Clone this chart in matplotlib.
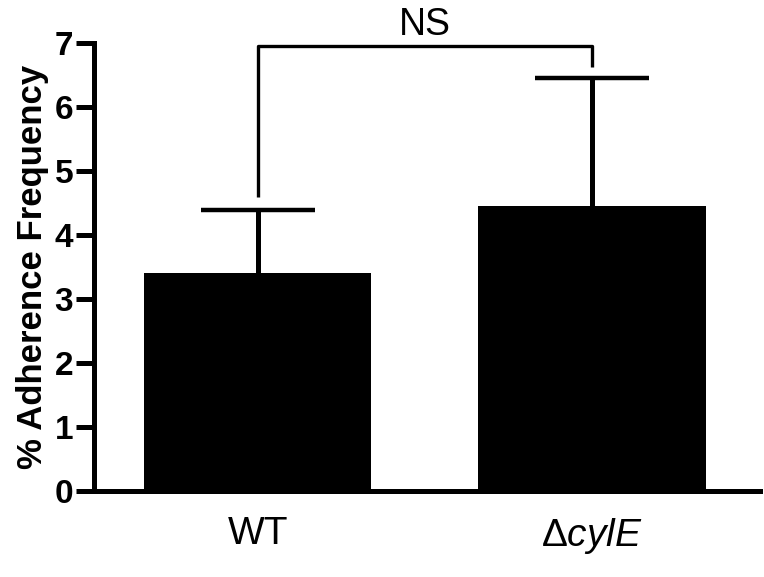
import matplotlib
matplotlib.use("Agg")
import matplotlib.pyplot as plt

plt.rcParams['font.family'] = ['Liberation Sans', 'DejaVu Sans']
plt.rcParams['mathtext.fontset'] = 'custom'
plt.rcParams['mathtext.rm'] = 'Liberation Sans'
plt.rcParams['mathtext.it'] = 'Liberation Sans:italic'

categories = ['WT', r'$\Delta\mathit{cylE}$']
means = [3.41, 4.45]
errors = [0.98, 2.0]
yticks = [0, 1, 2, 3, 4, 5, 6, 7]
bracket_y = 6.95
bracket_left_bottom = 4.6
bracket_right_bottom = 6.63
sig_label = 'NS'

fig = plt.figure(figsize=(7.64, 5.77), dpi=100)
ax = fig.add_axes([0.123, 0.149, 0.872, 0.776])

x = list(range(len(categories)))
tops = [m + e for m, e in zip(means, errors)]
cap_half = 0.17
ax.vlines(x, means, tops, colors='black', lw=3.6, zorder=2)
ax.hlines(tops, [xi - cap_half for xi in x], [xi + cap_half for xi in x],
          colors='black', lw=3.2, zorder=2)
ax.bar(x, means, width=0.68, color='black', zorder=3)

ax.plot([x[0], x[0], x[1], x[1]],
        [bracket_left_bottom, bracket_y, bracket_y, bracket_right_bottom],
        color='black', lw=2.4, solid_capstyle='butt')
ax.text((x[0] + x[1]) / 2, bracket_y + 0.05, sig_label, ha='center', va='bottom',
        fontsize=27, clip_on=False)

ax.set_xlim(-0.49, 1.503)
ax.set_ylim(0, 7)
ax.set_yticks(yticks)
ax.set_yticklabels([str(t) for t in yticks], fontsize=24, fontweight='bold')
ax.set_xticks(x)
ax.set_xticklabels(categories, fontsize=28)
ax.tick_params(axis='x', length=0, pad=18)
ax.tick_params(axis='y', length=13, width=3.6, pad=2)
ax.set_ylabel('% Adherence Frequency', fontsize=25, fontweight='bold', labelpad=4)

for s in ['top', 'right']:
    ax.spines[s].set_visible(False)
for s in ['left', 'bottom']:
    ax.spines[s].set_linewidth(3.6)

fig.savefig('out.png', dpi=100)
